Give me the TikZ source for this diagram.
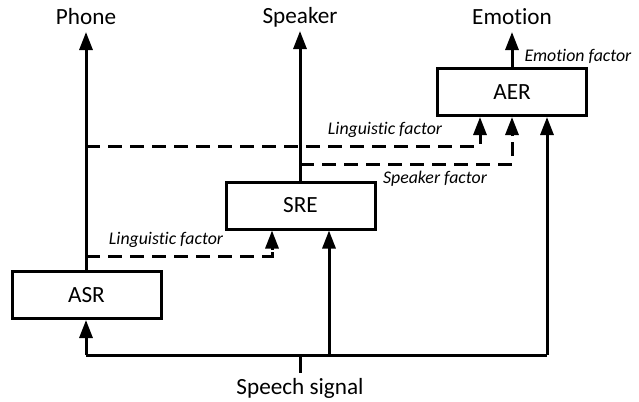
\documentclass[tikz,border=0pt]{standalone}
\usepackage{fontspec}
\setmainfont{Carlito}[Ligatures=NoCommon]
\usetikzlibrary{arrows.meta}
\begin{document}
\begin{tikzpicture}[x=0.5pt,y=-0.5pt,
  line width=1.5pt,
  box/.style={draw,rectangle,line width=1.5pt,minimum width=74.5pt,minimum height=23.5pt,inner sep=0pt,font=\fontsize{11.6}{14}\selectfont},
  lbl/.style={inner sep=0pt,font=\fontsize{11.6}{14}\selectfont},
  fac/.style={inner sep=0pt,font=\fontsize{8.9}{11}\selectfont\itshape},
  arr/.style={-{Triangle[length=9pt,width=6.5pt]}},
  dsh/.style={dash pattern=on 7pt off 4pt}
]
\fill[white] (0,0) rectangle (639,402);
\useasboundingbox (0,0) rectangle (639,402);
% boxes
\node[box] (ASR) at (86.5,295) {ASR};
\node[box] (SRE) at (300.5,205.5) {SRE};
\node[box] (AER) at (512,92) {AER};
% outputs
\node[lbl] (phone) at (86,17) {Phone};
\node[lbl] (speaker) at (300,17) {Speaker};
\node[lbl] (emotion) at (512,17) {Emotion};
\node[lbl] (speech) at (300,388) {Speech signal};
% coordinates
\coordinate (phtop) at (86,32);
\coordinate (sptop) at (300,31);
\coordinate (emtop) at (512,32);
\coordinate (bl) at (86,355);
\coordinate (br) at (547,355);
\coordinate (bm) at (300,355);
\coordinate (bsre) at (329,355);
\coordinate (stub) at (300,373);
\coordinate (l1a) at (86,256);
\coordinate (l1b) at (272,256);
\coordinate (l2a) at (86,146);
\coordinate (l2b) at (480,146);
\coordinate (s1a) at (300,164);
\coordinate (s1b) at (512,164);
% output arrows
\draw[arr] (ASR.north -| phtop) -- (phtop);
\draw[arr] (SRE.north -| sptop) -- (sptop);
\draw[arr] (AER.north -| emtop) -- (emtop);
% input
\draw (bl) -- (br);
\draw (bm) -- (stub);
\draw[arr] (bl) -- (ASR.south -| bl);
\draw[arr] (bsre) -- (SRE.south -| bsre);
\draw[arr] (br) -- (AER.south -| br);
% dashed factors
\draw[dsh] (l1a) -- (l1b) -- ([yshift=-9pt]SRE.south -| l1b);
\draw[arr] ([yshift=-9.5pt]SRE.south -| l1b) -- (SRE.south -| l1b);
\draw[dsh] (l2a) -- (l2b) -- ([yshift=-9pt]AER.south -| l2b);
\draw[arr] ([yshift=-9.5pt]AER.south -| l2b) -- (AER.south -| l2b);
\draw[dsh] (s1a) -- (s1b) -- ([yshift=-9pt]AER.south -| s1b);
\draw[arr] ([yshift=-9.5pt]AER.south -| s1b) -- (AER.south -| s1b);
% labels
\node[fac] (lf1) at (166,240) {Linguistic factor};
\node[fac] (lf2) at (385,130) {Linguistic factor};
\node[fac] (sf) at (435,179) {Speaker factor};
\node[fac,anchor=west] (ef) at (523,56) {Emotion factor};
\end{tikzpicture}
\end{document}
